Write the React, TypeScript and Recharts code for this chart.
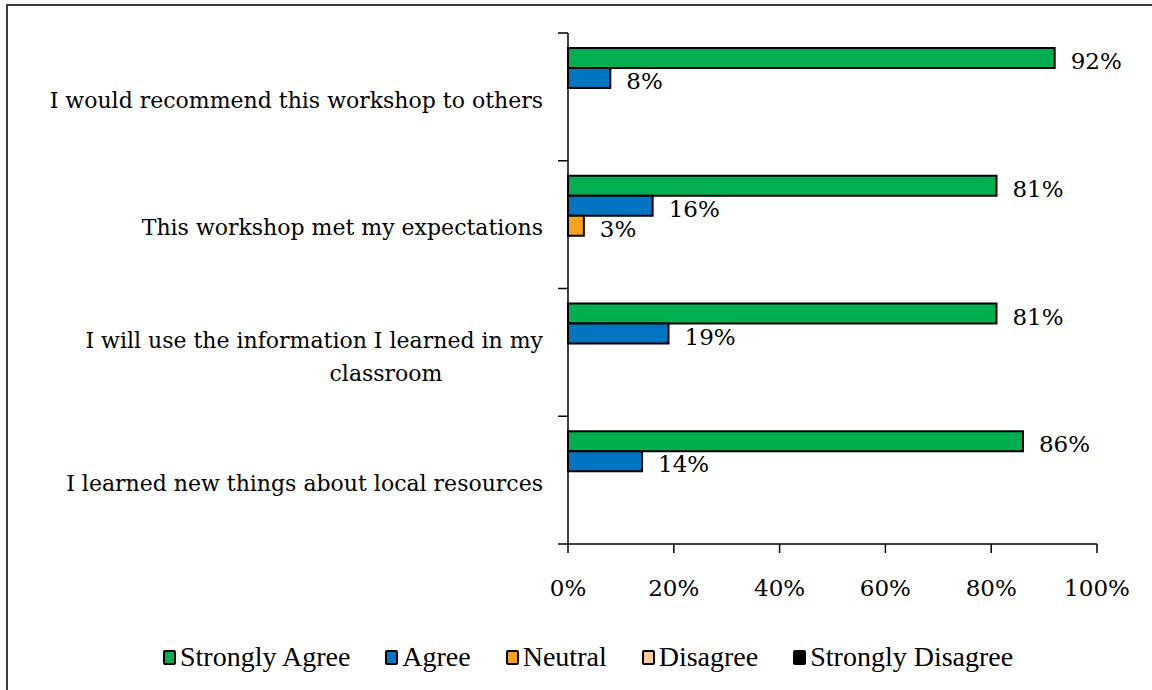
import { BarChart, Bar, XAxis, YAxis, LabelList, Legend } from 'recharts'

const categories = [
  'I would recommend this workshop to others',
  'This workshop met my expectations',
  'I will use the information I learned in my\nclassroom',
  'I learned new things about local resources',
]
const stronglyAgree = [92, 81, 81, 86]
const agree = [8, 16, 19, 14]
const neutral = [0, 3, 0, 0]
const disagree = [0, 0, 0, 0]
const stronglyDisagree = [0, 0, 0, 0]
const xTicks = [0, 20, 40, 60, 80, 100]

const series = [
  { key: 'sa', name: 'Strongly Agree', color: '#00B050' },
  { key: 'a', name: 'Agree', color: '#0075C2' },
  { key: 'n', name: 'Neutral', color: '#F7A21B' },
  { key: 'd', name: 'Disagree', color: '#FBCB9C' },
  { key: 'sd', name: 'Strongly Disagree', color: '#000000' },
]

const data = categories.map((category, i) => ({
  category,
  sa: stronglyAgree[i],
  a: agree[i],
  n: neutral[i],
  d: disagree[i],
  sd: stronglyDisagree[i],
}))

const FONT = '"DejaVu Serif", serif'
const W = 1152
const H = 690
const MARGIN = { top: 33, right: 55, bottom: 15, left: 0 }
const LEGEND_H = 36
const XAXIS_H = 95
const Y_TICK_GAP = 25
// band height of one category, used to put the y ticks between categories like Excel does
const BAND = (H - MARGIN.top - MARGIN.bottom - LEGEND_H - XAXIS_H) / categories.length

const CategoryTick = ({ x, y, payload, index }: any) => {
  const lines = String(payload.value).split('\n')
  const axisX = x + Y_TICK_GAP
  const tick = (ty: number) => (
    <line x1={axisX - 10} x2={axisX} y1={ty} y2={ty} stroke="#000" strokeWidth={1.5} />
  )
  return (
    <g>
      {tick(y - BAND / 2)}
      {index === categories.length - 1 && tick(y + BAND / 2)}
      {lines.length === 1 ? (
        <text x={x} y={y + 3} dy="0.35em" textAnchor="end" fontFamily={FONT} fontSize={22} fill="#000">
          {lines[0]}
        </text>
      ) : (
        <>
          <text x={x} y={y - 12} dy="0.35em" textAnchor="end" fontFamily={FONT} fontSize={22} fill="#000">
            {lines[0]}
          </text>
          <text x={x - 157} y={y + 21} dy="0.35em" textAnchor="middle" fontFamily={FONT} fontSize={22} fill="#000">
            {lines[1]}
          </text>
        </>
      )}
    </g>
  )
}

const ValueLabel = ({ x, y, width, height, value }: any) => {
  if (!value) return null
  return (
    <text x={x + width + 16} y={y + height / 2 + 3} dy="0.35em" fontFamily={FONT} fontSize={23} fill="#000">
      {value}%
    </text>
  )
}

const LegendContent = () => (
  <div style={{ display: 'flex', alignItems: 'center', height: LEGEND_H, paddingLeft: 163, fontFamily: '"Liberation Serif", serif', fontSize: 28 }}>
    {series.map((s) => (
      <div key={s.key} style={{ display: 'flex', alignItems: 'center', marginRight: 35 }}>
        <span style={{ display: 'inline-block', width: 9, height: 11, background: s.color, border: '2px solid #000', borderRadius: 2, marginRight: 4 }} />
        <span>{s.name}</span>
      </div>
    ))}
  </div>
)

export default function App() {
  return (
    <div style={{ position: 'absolute', left: 0, top: 0, width: W, height: H, overflow: 'hidden', background: '#fff' }}>
      <div style={{ position: 'absolute', left: 6, top: 4, width: 1200, height: 800, borderLeft: '2.5px solid #3c3c3c', borderTop: '2.5px solid #3c3c3c' }} />
      <BarChart
        width={W}
        height={H}
        data={data}
        layout="vertical"
        margin={MARGIN}
        barCategoryGap={15}
        barGap={0}
      >
        <YAxis
          type="category"
          dataKey="category"
          width={568}
          tickLine={false}
          axisLine={{ stroke: '#000', strokeWidth: 1.5 }}
          tickMargin={Y_TICK_GAP}
          tickSize={0}
          tick={<CategoryTick />}
          interval={0}
        />
        <XAxis
          type="number"
          domain={[0, 100]}
          ticks={xTicks}
          tickFormatter={(v) => `${v}%`}
          height={XAXIS_H}
          tickSize={9}
          tickMargin={27}
          axisLine={{ stroke: '#000', strokeWidth: 1.5 }}
          tickLine={{ stroke: '#000', strokeWidth: 1.5 }}
          tick={{ fill: '#000', fontFamily: FONT, fontSize: 23 }}
        />
        <Legend verticalAlign="bottom" content={<LegendContent />} wrapperStyle={{ left: 0, bottom: MARGIN.bottom, width: W }} />
        {series.map((s) => (
          <Bar key={s.key} dataKey={s.key} name={s.name} fill={s.color} stroke="#000" strokeWidth={2} isAnimationActive={false}>
            <LabelList dataKey={s.key} content={<ValueLabel />} />
          </Bar>
        ))}
      </BarChart>
    </div>
  )
}
